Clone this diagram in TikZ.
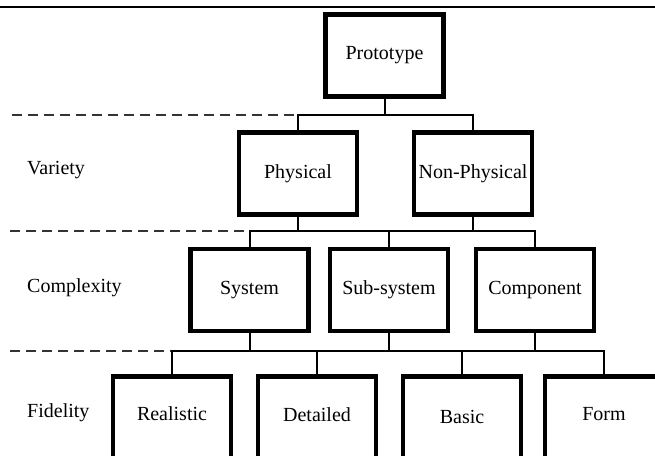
\documentclass[tikz,border=0pt]{standalone}
\usepackage{fontspec}
\setmainfont{Liberation Serif}
\begin{document}
\begin{tikzpicture}[x=1pt,y=-1pt,
  box/.style={draw=black,line width=4.5pt,fill=white,minimum width=118pt,minimum height=82pt,inner sep=0pt,font=\fontsize{20}{22}\selectfont},
  lvl/.style={anchor=west,inner sep=0pt,font=\fontsize{20}{22}\selectfont},
  conn/.style={draw=black,line width=2pt},
  sep/.style={draw=black!80,line width=2.5pt,dash pattern=on 10pt off 6pt}]
\clip (0,0) rectangle (655,455);
\fill[white] (0,0) rectangle (655,455);
% top rule
\coordinate (tl) at (0,7);
\coordinate (tr) at (655,7);
\draw[line width=1.5pt] (tl) -- (tr);
% boxes
\node[box] (proto) at (384.5,55.5) {Prototype};
\node[box] (phys) at (298,173.5) {\raisebox{2pt}{Physical}};
\node[box] (nonphys) at (473,173.5) {\raisebox{2pt}{Non-Physical}};
\node[box] (sys) at (249.5,290) {System};
\node[box] (sub) at (389,290) {Sub-system};
\node[box] (comp) at (535,290) {Component};
\node[box] (real) at (172,417.5) {\raisebox{7pt}{Realistic}};
\node[box] (det) at (317,417.5) {\raisebox{5pt}{Detailed}};
\node[box] (bas) at (462,417.5) {\raisebox{1pt}{Basic}};
\node[box] (form) at (604,417.5) {\raisebox{7pt}{Form}};
% level labels
\node[lvl] (lvar) at (27,170) {Variety};
\node[lvl] (lcom) at (27,288) {Complexity};
\node[lvl] (lfid) at (27,413) {Fidelity};
% bus coordinates
\coordinate (b1) at (12,115);
\coordinate (b2) at (10,231);
\coordinate (b3) at (10,351);
% dashed separators
\draw[sep] (b1) -- (b1 -| phys.north);
\draw[sep] (b2) -- (b2 -| sys.north);
\draw[sep] (b3) -- (b3 -| real.north);
% connectors level 1
\draw[conn] (proto.south) -- (proto.south |- b1);
\draw[conn] (phys.north) -- (phys.north |- b1) -- (nonphys.north |- b1) -- (nonphys.north);
% connectors level 2
\draw[conn] (phys.south) -- (phys.south |- b2);
\draw[conn] (nonphys.south) -- (nonphys.south |- b2);
\draw[conn] (sys.north) -- (sys.north |- b2) -- (comp.north |- b2) -- (comp.north);
\draw[conn] (sub.north) -- (sub.north |- b2);
% connectors level 3
\draw[conn] (sys.south) -- (sys.south |- b3);
\draw[conn] (sub.south) -- (sub.south |- b3);
\draw[conn] (comp.south) -- (comp.south |- b3);
\draw[conn] (real.north) -- (real.north |- b3) -- (form.north |- b3) -- (form.north);
\draw[conn] (det.north) -- (det.north |- b3);
\draw[conn] (bas.north) -- (bas.north |- b3);
\end{tikzpicture}
\end{document}
